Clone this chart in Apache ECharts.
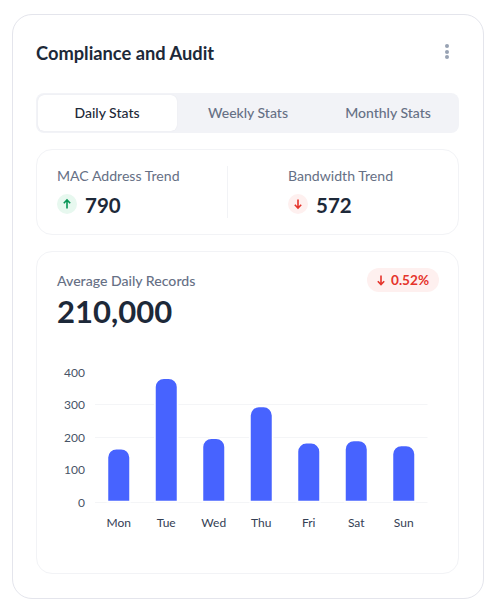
<!DOCTYPE html>
<html>
<head>
<meta charset="utf-8">
<script src="https://cdn.jsdelivr.net/npm/echarts@6/dist/echarts.min.js"></script>
<style>
* { box-sizing: border-box; }
html, body { margin: 0; padding: 0; background: #fff; }
body { width: 504px; height: 604px; position: relative; overflow: hidden; font-family: Lato, sans-serif; color: #1d2939; }
.abs { position: absolute; white-space: nowrap; }
.card { position: absolute; left: 11.5px; top: 14px; width: 472px; height: 584.5px; border: 1px solid #e4e5ec; border-radius: 20px; }
.title { left: 36px; top: 42px; font-size: 18.3px; line-height: 22px; font-weight: 700; }
.dot { position: absolute; left: 445px; width: 4px; height: 4px; border-radius: 50%; background: #98a2b3; }
.tabs { position: absolute; left: 36px; top: 93px; width: 423px; height: 40px; border-radius: 8px; background: #f2f3f7; }
.tabon { position: absolute; left: 38px; top: 95px; width: 139px; height: 36px; border-radius: 6px; background: #fff; box-shadow: 0 0 1px #d9dbe4; }
.tab { top: 104px; font-size: 14px; line-height: 17px; font-weight: 500; color: #667085; transform: translateX(-50%); }
.box { position: absolute; border: 1px solid #f2f3f6; border-radius: 16px; background: #fff; }
.label { font-size: 14.1px; line-height: 17px; color: #667085; }
.num { font-size: 20.5px; line-height: 26px; font-weight: 700; }
.icon { position: absolute; width: 20px; height: 20px; border-radius: 50%; }
.icon svg, .badge svg { display: block; }
.up { background: #e7f8ef; }
.down { background: #fef0ef; }
.badge { position: absolute; left: 367px; top: 268px; width: 72px; height: 24px; border-radius: 12px; background: #fef0ef; }
.pct { left: 391px; top: 271.5px; font-size: 13.6px; line-height: 17px; font-weight: 700; color: #e5342b; }
.big { left: 57px; top: 292px; font-size: 31px; line-height: 38px; font-weight: 700; }
#chart { position: absolute; left: 37px; top: 352px; width: 421px; height: 200px; }
</style>
</head>
<body>
<div class="card"></div>
<div class="abs title" id="title"></div>
<div class="dot" style="top:44px"></div><div class="dot" style="top:49.5px"></div><div class="dot" style="top:55px"></div>
<div class="tabs"></div>
<div class="tabon"></div>
<div id="tabs"></div>
<div class="box" style="left:36px;top:149px;width:423px;height:86px"></div>
<div style="position:absolute;left:227px;top:166px;width:1px;height:52px;background:#f2f3f6"></div>
<div class="abs label" style="left:57px;top:167px" id="l1"></div>
<div class="icon up" style="left:57px;top:194px"><svg width="20" height="20"><path d="M10 14.5V6M6.8 9.2L10 6l3.2 3.2" fill="none" stroke="#079455" stroke-width="1.6"/></svg></div>
<div class="abs num" style="left:85px;top:192px" id="n1"></div>
<div class="abs label" style="left:288px;top:167px" id="l2"></div>
<div class="icon down" style="left:288px;top:194px"><svg width="20" height="20"><path d="M10 5.5V14M6.8 10.8L10 14l3.2-3.2" fill="none" stroke="#e5342b" stroke-width="1.6"/></svg></div>
<div class="abs num" style="left:316px;top:192px" id="n2"></div>
<div class="box" style="left:36px;top:251px;width:423px;height:323px"></div>
<div class="abs label" style="left:57px;top:272px;font-weight:500" id="l3"></div>
<div class="badge"><svg width="24" height="24"><path d="M14 7.5V16.5M10.8 13.3L14 16.5l3.2-3.2" fill="none" stroke="#e5342b" stroke-width="1.6"/></svg></div>
<div class="abs pct" id="pct"></div>
<div class="abs big" id="big"></div>
<div id="chart"></div>
<script>
var cardTitle = 'Compliance and Audit'
var tabNames = ['Daily Stats', 'Weekly Stats', 'Monthly Stats']
var tabCenters = [107, 248, 388]
var trendLabels = ['MAC Address Trend', 'Bandwidth Trend']
var trendValues = ['790', '572']
var recordsLabel = 'Average Daily Records'
var recordsValue = '210,000'
var recordsChange = '0.52%'

var days = ['Mon', 'Tue', 'Wed', 'Thu', 'Fri', 'Sat', 'Sun']
var records = [168, 384, 200, 297, 186, 193, 178]
var yTicks = [0, 100, 200, 300, 400]

document.getElementById('title').textContent = cardTitle
document.getElementById('l1').textContent = trendLabels[0]
document.getElementById('l2').textContent = trendLabels[1]
document.getElementById('n1').textContent = trendValues[0]
document.getElementById('n2').textContent = trendValues[1]
document.getElementById('l3').textContent = recordsLabel
document.getElementById('big').textContent = recordsValue
document.getElementById('pct').textContent = recordsChange

tabNames.forEach(function (name, i) {
    var el = document.createElement('div')
    el.className = 'abs tab'
    el.style.left = tabCenters[i] + 'px'
    el.textContent = name
    if (i === 0) el.style.color = '#1d2939'
    document.getElementById('tabs').appendChild(el)
})

var chart = echarts.init(document.getElementById('chart'), null, { renderer: 'svg' })
chart.setOption({
    animation: false,
    // grid sits in chart-local pixels: x 95-427.5, y 372-502.5 on the page
    grid: { left: 58, width: 332.5, top: 20, height: 130.5 },
    xAxis: {
        type: 'category',
        data: days,
        axisLine: { show: false },
        axisTick: { show: false },
        axisLabel: { color: '#344054', fontSize: 12, fontFamily: 'Lato', margin: 14 }
    },
    yAxis: {
        type: 'value',
        min: yTicks[0],
        max: yTicks[yTicks.length - 1],
        interval: 100,
        axisLine: { show: false },
        axisTick: { show: false },
        axisLabel: { color: '#475467', fontSize: 12, fontFamily: 'Lato', margin: 10 },
        // the reference only shows lines at 0, 200 and 300
        splitLine: { lineStyle: { color: ['#f4f5f7', 'transparent', '#f4f5f7', '#f4f5f7', 'transparent'], width: 1 } }
    },
    series: [{
        type: 'bar',
        data: records,
        barWidth: 24.4,
        // echarts keeps the border inside the bar box, so the white edge trims the blue by 1.7px
        itemStyle: { color: '#4763ff', borderColor: '#fff', borderWidth: 1.7, borderRadius: [9, 9, 0, 0] }
    }]
})
</script>
</body>
</html>
